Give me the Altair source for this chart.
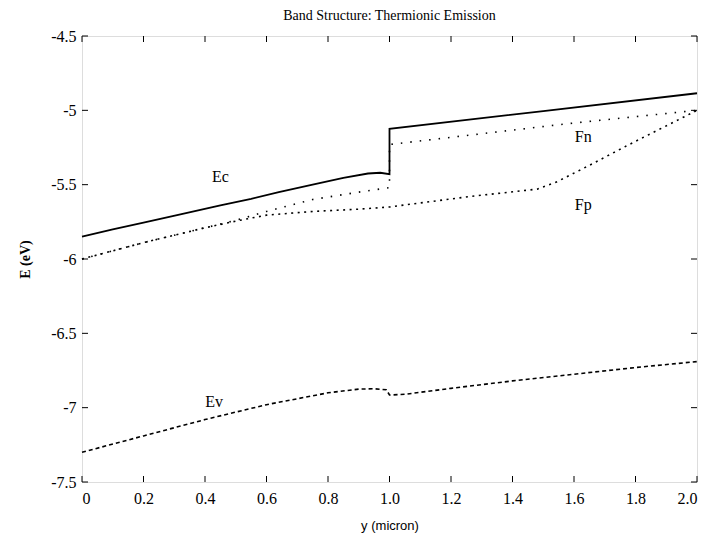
import altair as alt
import pandas as pd

# ---- data ----
x_ticks = [0.0, 0.2, 0.4, 0.6, 0.8, 1.0, 1.2, 1.4, 1.6, 1.8, 2.0]
y_ticks = [-7.5, -7.0, -6.5, -6.0, -5.5, -5.0, -4.5]

ec_x = [0.0, 0.1, 0.2, 0.32, 0.45, 0.55, 0.64, 0.75, 0.85, 0.93, 0.97, 1.0, 1.0, 1.5, 2.0]
ec_y = [-5.85, -5.80, -5.755, -5.70, -5.64, -5.595, -5.55, -5.50, -5.455, -5.425, -5.42, -5.43, -5.125, -5.005, -4.885]

fn_x = [0.0, 0.2, 0.4, 0.5, 0.6, 0.75, 0.9, 1.0, 1.0, 1.33, 1.6, 2.0]
fn_y = [-6.0, -5.89, -5.79, -5.74, -5.68, -5.60, -5.55, -5.52, -5.23, -5.15, -5.085, -5.0]

fp_x = [0.0, 0.2, 0.4, 0.5, 0.6, 0.75, 0.9, 1.0, 1.26, 1.48, 1.545, 1.65, 1.77, 2.0]
fp_y = [-6.0, -5.89, -5.79, -5.745, -5.705, -5.68, -5.665, -5.65, -5.58, -5.53, -5.48, -5.37, -5.24, -5.0]

ev_x = [0.0, 0.2, 0.4, 0.6, 0.8, 0.9, 0.95, 0.99, 1.0, 1.05, 1.2, 1.4, 1.6, 1.8, 2.0]
ev_y = [-7.30, -7.19, -7.08, -6.98, -6.90, -6.875, -6.873, -6.88, -6.915, -6.91, -6.87, -6.82, -6.775, -6.73, -6.69]

label_text = ["Ec", "Fn", "Fp", "Ev"]
label_x = [0.45, 1.63, 1.63, 0.43]
label_y = [-5.45, -5.18, -5.64, -6.96]

W, H = 615, 446
SERIF = "Liberation Serif, DejaVu Serif, serif"

xscale = alt.Scale(domain=[0, 2], nice=False, zero=False)
yscale = alt.Scale(domain=[-7.5, -4.5], nice=False, zero=False)

x_axis = alt.Axis(values=x_ticks, ticks=False, grid=False, domain=False,
                  labelExpr="datum.value == 0 ? '0' : format(datum.value, '.1f')",
                  labelFont=SERIF, labelFontSize=16, labelColor="black", labelPadding=8,
                  title="y (micron)", titleFont="Liberation Sans", titleFontSize=13,
                  titleFontWeight="normal", titleColor="black", titlePadding=13)
y_axis = alt.Axis(values=y_ticks, ticks=False, grid=False, domain=False,
                  labelExpr="'' + datum.value",
                  labelFont=SERIF, labelFontSize=16, labelColor="black", labelPadding=6,
                  title="E (eV)", titleFont=SERIF, titleFontSize=14,
                  titleFontWeight="bold", titleColor="black", titlePadding=18)


def line_layer(xs, ys, dash, width):
    df = pd.DataFrame({"x": xs, "y": ys, "i": list(range(len(xs)))})
    enc = dict(
        x=alt.X("x:Q", scale=xscale, axis=x_axis),
        y=alt.Y("y:Q", scale=yscale, axis=y_axis),
        order=alt.Order("i:Q"),
    )
    mk = dict(color="black", strokeWidth=width)
    if dash:
        mk["strokeDash"] = dash
    return alt.Chart(df).mark_line(**mk).encode(**enc)


ec = line_layer(ec_x, ec_y, None, 1.8)
fn = line_layer(fn_x, fn_y, [1.5, 8], 1.6)
fp = line_layer(fp_x, fp_y, [2, 4.5], 1.6)
ev = line_layer(ev_x, ev_y, [4, 3], 1.6)

labels = alt.Chart(pd.DataFrame({"x": label_x, "y": label_y, "t": label_text})).mark_text(
    font=SERIF, fontSize=16, color="black", align="center", baseline="middle"
).encode(x=alt.X("x:Q", scale=xscale, axis=x_axis), y=alt.Y("y:Q", scale=yscale, axis=y_axis), text="t:N")

xt = pd.DataFrame({"x": x_ticks})
yt = pd.DataFrame({"y": y_ticks})
tick_b = alt.Chart(xt).mark_rule(color="black", strokeWidth=1).encode(
    x=alt.X("x:Q", scale=xscale, axis=x_axis), y=alt.value(H), y2=alt.value(H - 6))
tick_t = alt.Chart(xt).mark_rule(color="black", strokeWidth=1).encode(
    x=alt.X("x:Q", scale=xscale, axis=x_axis), y=alt.value(0), y2=alt.value(6))
tick_l = alt.Chart(yt).mark_rule(color="black", strokeWidth=1).encode(
    y=alt.Y("y:Q", scale=yscale, axis=y_axis), x=alt.value(0), x2=alt.value(6))
tick_r = alt.Chart(yt).mark_rule(color="black", strokeWidth=1).encode(
    y=alt.Y("y:Q", scale=yscale, axis=y_axis), x=alt.value(W), x2=alt.value(W - 6))

chart = alt.layer(tick_b, tick_t, tick_l, tick_r, ev, fp, fn, ec, labels).properties(
    width=W, height=H,
    autosize="none",
    padding={"left": 74, "top": 28, "right": 4, "bottom": 57},
    title=alt.TitleParams("Band Structure: Thermionic Emission", font=SERIF, fontSize=14,
                          fontWeight="normal", color="black", anchor="middle", offset=5),
).configure_view(stroke="black", strokeWidth=1.2).configure(background="white")

chart.save("out.html", embed_options={"renderer": "svg", "actions": False})
